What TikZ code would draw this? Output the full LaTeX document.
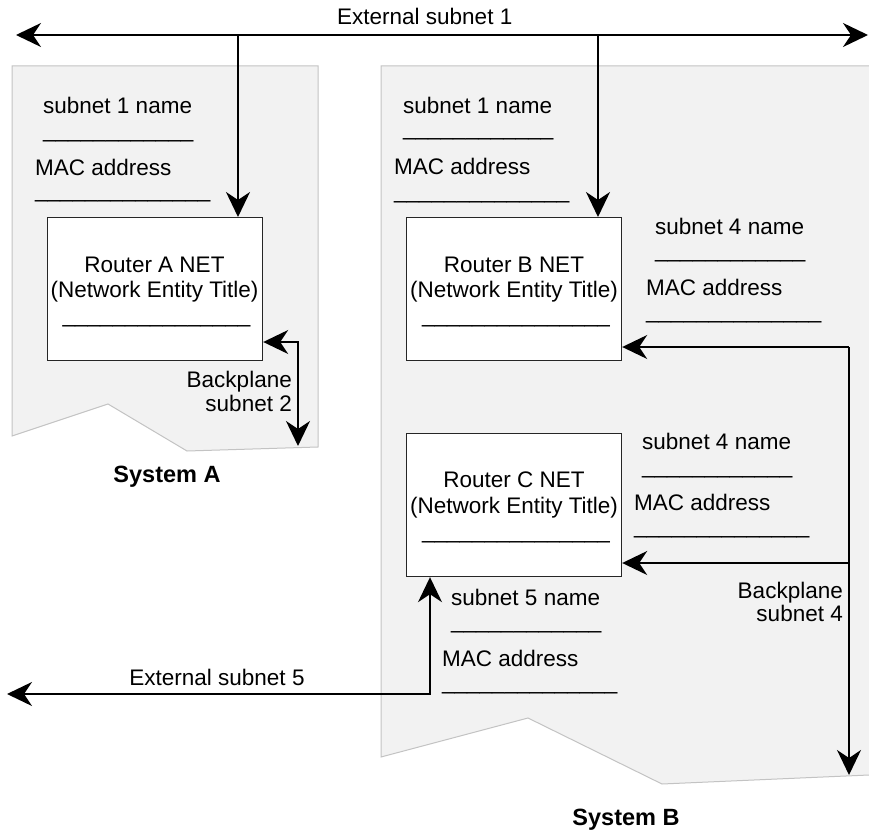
\documentclass[tikz,border=0pt]{standalone}
\usepackage{fontspec}
\setmainfont{Liberation Sans}
\usetikzlibrary{arrows.meta}
\definecolor{panelfill}{RGB}{242,242,242}
\definecolor{panelline}{RGB}{195,195,195}
\begin{document}
\begin{tikzpicture}[x=1pt,y=-1pt,
  >={Stealth[length=25pt,width=24pt,inset=8pt]},
  txt/.style={inner sep=0pt,font=\fontsize{22.5}{27}\selectfont},
  lbl/.style={txt,anchor=base west},
  lblc/.style={txt,anchor=base},
  lblr/.style={txt,anchor=base east},
  sysname/.style={inner sep=0pt,anchor=base,font=\fontsize{23.5}{28}\selectfont\bfseries},
  router/.style={draw=black!85,line width=1.2pt,fill=white,minimum width=215pt,minimum height=143pt,inner sep=0pt,anchor=north west},
  link/.style={line width=1.5pt,black},
  panel/.style={fill=panelfill},
  panelrim/.style={draw=panelline,line width=1pt}]
\useasboundingbox (0,0) rectangle (869,834);

% system panels
\fill[panel] (12,66) -- (318,66) -- (318,447) -- (187,451) -- (108,404) -- (12,436) -- cycle;
\draw[panelrim] (12,66) -- (318,66) -- (318,447) -- (187,451) -- (108,404) -- (12,436) -- cycle;
\fill[panel] (381,66) -- (869,66) -- (869,775) -- (662,784) -- (528,718) -- (381,757) -- cycle;
\draw[panelrim] (869,66) -- (381,66) -- (381,757) -- (528,718) -- (662,784) -- (869,775);

% routers
\node[router] (rA) at (47,217) {};
\node[router] (rB) at (406,217) {};
\node[router] (rC) at (406,433) {};

\node[lblc] (rAt1) at (154.5,272) {Router A NET};
\node[lblc] (rAt2) at (154.5,297) {(Network Entity Title)};
\node[lblc] (rAu)  at (156.5,322) {\_\_\_\_\_\_\_\_\_\_\_\_\_\_\_};
\node[lblc] (rBt1) at (514,272) {Router B NET};
\node[lblc] (rBt2) at (514,297) {(Network Entity Title)};
\node[lblc] (rBu)  at (516,322) {\_\_\_\_\_\_\_\_\_\_\_\_\_\_\_};
\node[lblc] (rCt1) at (514,487) {Router C NET};
\node[lblc] (rCt2) at (514,513) {(Network Entity Title)};
\node[lblc] (rCu)  at (516,538) {\_\_\_\_\_\_\_\_\_\_\_\_\_\_\_};

% subnet name / MAC fields, system A
\node[lbl] (aS1)  at (43,114) {subnet 1 name};
\node[lbl] (aS1u) at (43,138) {\_\_\_\_\_\_\_\_\_\_\_\_};
\node[lbl] (aM1)  at (35,176) {MAC address};
\node[lbl] (aM1u) at (35,198) {\_\_\_\_\_\_\_\_\_\_\_\_\_\_};

% subnet name / MAC fields, system B
\node[lbl] (bS1)  at (403,114) {subnet 1 name};
\node[lbl] (bS1u) at (403,136) {\_\_\_\_\_\_\_\_\_\_\_\_};
\node[lbl] (bM1)  at (394,175) {MAC address};
\node[lbl] (bM1u) at (394,199) {\_\_\_\_\_\_\_\_\_\_\_\_\_\_};
\node[lbl] (bS4)  at (655,234) {subnet 4 name};
\node[lbl] (bS4u) at (655,257) {\_\_\_\_\_\_\_\_\_\_\_\_};
\node[lbl] (bM4)  at (646,295) {MAC address};
\node[lbl] (bM4u) at (646,318) {\_\_\_\_\_\_\_\_\_\_\_\_\_\_};
\node[lbl] (cS4)  at (642,449) {subnet 4 name};
\node[lbl] (cS4u) at (642,473) {\_\_\_\_\_\_\_\_\_\_\_\_};
\node[lbl] (cM4)  at (634,510) {MAC address};
\node[lbl] (cM4u) at (634,533) {\_\_\_\_\_\_\_\_\_\_\_\_\_\_};
\node[lbl] (cS5)  at (451,605) {subnet 5 name};
\node[lbl] (cS5u) at (451,628) {\_\_\_\_\_\_\_\_\_\_\_\_};
\node[lbl] (cM5)  at (442,666) {MAC address};
\node[lbl] (cM5u) at (442,689) {\_\_\_\_\_\_\_\_\_\_\_\_\_\_};

% link labels
\node[lbl]  (ext1) at (337,25) {External subnet 1};
\node[lblc] (ext5) at (217,685) {External subnet 5};
\node[lblr] (bpA1) at (292,387) {Backplane};
\node[lblr] (bpA2) at (292,411) {subnet 2};
\node[lblr] (bpB1) at (843,598) {Backplane};
\node[lblr] (bpB2) at (843,621) {subnet 4};

% system names
\node[sysname] (sysA) at (167,482) {System A};
\node[sysname] (sysB) at (626,825) {System B};

% connector points
\coordinate (e1w) at (16,35);
\coordinate (e1e) at (868,35);
\coordinate (tapA) at (238,35);
\coordinate (tapB) at (598,35);
\coordinate (bpAc) at (298,342);
\coordinate (bpAend) at (298,446);
\coordinate (bpBtop) at (849,347);
\coordinate (bpBmid) at (849,563);
\coordinate (bpBend) at (849,775);
\coordinate (e5c) at (430,694);
\coordinate (e5w) at (7,694);

% external subnet 1
\draw[link,<->] (e1w) -- (e1e);
\draw[link,->] (tapA) -- (tapA |- rA.north);
\draw[link,->] (tapB) -- (tapB |- rB.north);

% backplane subnet 2
\draw[link,<->] (rA.east |- bpAc) -- (bpAc) -- (bpAend);

% backplane subnet 4
\draw[link,->] (bpBtop) -- (bpBend);
\draw[link,->] (bpBtop) -- (rB.east |- bpBtop);
\draw[link,->] (bpBmid) -- (rC.east |- bpBmid);

% external subnet 5
\draw[link,<->] (e5w) -- (e5c) -- (e5c |- rC.south);
\end{tikzpicture}
\end{document}
